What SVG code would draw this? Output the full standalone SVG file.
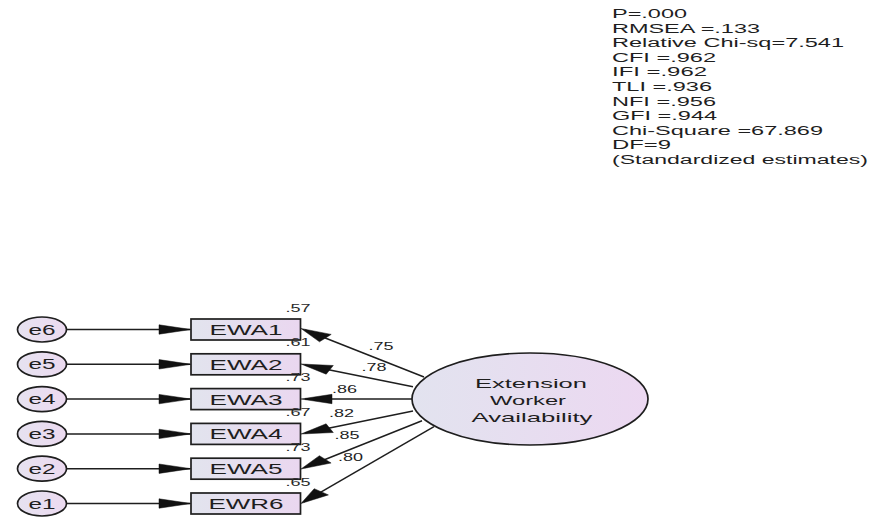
<svg xmlns="http://www.w3.org/2000/svg" width="878" height="525" viewBox="0 0 878 525">
  <defs>
    <linearGradient id="fillObs" x1="0" y1="0" x2="1" y2="0">
      <stop offset="0" stop-color="#e2e4ee"/>
      <stop offset="1" stop-color="#ead7f0"/>
    </linearGradient>
    <linearGradient id="fillLat" x1="0" y1="0" x2="1" y2="0">
      <stop offset="0" stop-color="#e2e3ef"/>
      <stop offset="1" stop-color="#ecd8f1"/>
    </linearGradient>
    <linearGradient id="fillErr" x1="0" y1="0" x2="1" y2="0">
      <stop offset="0" stop-color="#e6e2f0"/>
      <stop offset="1" stop-color="#ecdaf0"/>
    </linearGradient>
  </defs>
  <style>
    text { font-family: "Liberation Sans", Arial, sans-serif; fill: #1e1e1e; }
    .fit { font-size: 12px; }
    .lbl { font-size: 14px; text-anchor: middle; }
    .lat { font-size: 13.5px; text-anchor: middle; }
    .num { font-size: 11px; text-anchor: middle; fill: #2a2a2a; }
    .err { fill: url(#fillErr); stroke: #1e1e1e; stroke-width: 1.7; }
    .obs { fill: url(#fillObs); stroke: #1e1e1e; stroke-width: 1.7; }
    .latshape { fill: url(#fillLat); stroke: #1e1e1e; stroke-width: 1.7; }
    .conn line { stroke: #1e1e1e; stroke-width: 1.5; }
    .conn polygon { fill: #111; stroke: #111; stroke-width: 0.5; }
  </style>

  <!-- model fit summary -->
  <g id="fit-summary" class="fit">
    <text x="612" y="18.3" textLength="75" lengthAdjust="spacingAndGlyphs">P=.000</text>
    <text x="612" y="32.8" textLength="148" lengthAdjust="spacingAndGlyphs">RMSEA =.133</text>
    <text x="612" y="47.4" textLength="232" lengthAdjust="spacingAndGlyphs">Relative Chi-sq=7.541</text>
    <text x="612" y="61.9" textLength="104" lengthAdjust="spacingAndGlyphs">CFI =.962</text>
    <text x="612" y="76.4" textLength="95" lengthAdjust="spacingAndGlyphs">IFI =.962</text>
    <text x="612" y="91.0" textLength="100" lengthAdjust="spacingAndGlyphs">TLI =.936</text>
    <text x="612" y="105.5" textLength="104" lengthAdjust="spacingAndGlyphs">NFI =.956</text>
    <text x="612" y="120.0" textLength="105" lengthAdjust="spacingAndGlyphs">GFI =.944</text>
    <text x="612" y="134.5" textLength="211" lengthAdjust="spacingAndGlyphs">Chi-Square =67.869</text>
    <text x="612" y="149.1" textLength="59" lengthAdjust="spacingAndGlyphs">DF=9</text>
    <text x="612" y="163.6" textLength="256" lengthAdjust="spacingAndGlyphs">(Standardized estimates)</text>
  </g>

  <!-- connectors: error terms to indicators, factor to indicators -->
  <g id="connectors" class="conn">
    <line x1="66.5" y1="329.5" x2="190" y2="329.5"/>
    <polygon points="191,329.5 159,324.8 159,334.2"/>
    <line x1="66.5" y1="364.3" x2="190" y2="364.3"/>
    <polygon points="191,364.3 159,359.6 159,369"/>
    <line x1="66.5" y1="399.1" x2="190" y2="399.1"/>
    <polygon points="191,399.1 159,394.4 159,403.8"/>
    <line x1="66.5" y1="433.9" x2="190" y2="433.9"/>
    <polygon points="191,433.9 159,429.2 159,438.6"/>
    <line x1="66.5" y1="468.7" x2="190" y2="468.7"/>
    <polygon points="191,468.7 159,464 159,473.4"/>
    <line x1="66.5" y1="503.5" x2="190" y2="503.5"/>
    <polygon points="191,503.5 159,498.8 159,508.2"/>

    <line x1="424" y1="377" x2="305" y2="330"/>
    <polygon points="301,328.5 331.2,334.4 319.5,341.8"/>
    <line x1="413" y1="386.7" x2="305" y2="365"/>
    <polygon points="301,364 333.3,365.5 326.2,374.2"/>
    <line x1="412" y1="399" x2="305" y2="399"/>
    <polygon points="301,399 332,394.3 332,403.7"/>
    <line x1="413" y1="411" x2="305" y2="433"/>
    <polygon points="301,434 333.3,432.5 326.1,423.8"/>
    <line x1="422" y1="420.7" x2="305" y2="467.5"/>
    <polygon points="301,469 331.1,463 319.4,455.7"/>
    <line x1="434" y1="426.7" x2="304" y2="501.8"/>
    <polygon points="301,503.5 328.4,494.9 314.2,488.7"/>
  </g>

  <!-- path coefficients -->
  <g id="loadings" class="num">
    <text x="381" y="350" textLength="25" lengthAdjust="spacingAndGlyphs">.75</text>
    <text x="374" y="370.7" textLength="25" lengthAdjust="spacingAndGlyphs">.78</text>
    <text x="344.5" y="393" textLength="25" lengthAdjust="spacingAndGlyphs">.86</text>
    <text x="341.5" y="417" textLength="25" lengthAdjust="spacingAndGlyphs">.82</text>
    <text x="347" y="439" textLength="25" lengthAdjust="spacingAndGlyphs">.85</text>
    <text x="350.5" y="460.7" textLength="25" lengthAdjust="spacingAndGlyphs">.80</text>
  </g>

  <!-- error terms -->
  <g id="e6"><ellipse class="err" cx="42" cy="329.5" rx="24.5" ry="12.5"/><text class="lbl" x="42" y="334.5" textLength="27" lengthAdjust="spacingAndGlyphs">e6</text></g>
  <g id="e5"><ellipse class="err" cx="42" cy="364.3" rx="24.5" ry="12.5"/><text class="lbl" x="42" y="369.3" textLength="27" lengthAdjust="spacingAndGlyphs">e5</text></g>
  <g id="e4"><ellipse class="err" cx="42" cy="399.1" rx="24.5" ry="12.5"/><text class="lbl" x="42" y="404.1" textLength="27" lengthAdjust="spacingAndGlyphs">e4</text></g>
  <g id="e3"><ellipse class="err" cx="42" cy="433.9" rx="24.5" ry="12.5"/><text class="lbl" x="42" y="438.9" textLength="27" lengthAdjust="spacingAndGlyphs">e3</text></g>
  <g id="e2"><ellipse class="err" cx="42" cy="468.7" rx="24.5" ry="12.5"/><text class="lbl" x="42" y="473.7" textLength="27" lengthAdjust="spacingAndGlyphs">e2</text></g>
  <g id="e1"><ellipse class="err" cx="42" cy="503.5" rx="24.5" ry="12.5"/><text class="lbl" x="42" y="508.5" textLength="27" lengthAdjust="spacingAndGlyphs">e1</text></g>

  <!-- observed indicators with squared multiple correlations -->
  <g id="EWA1"><rect class="obs" x="191" y="319" width="109.5" height="21"/><text class="lbl" x="246" y="335" textLength="73" lengthAdjust="spacingAndGlyphs">EWA1</text><text class="num" x="298" y="311.5" textLength="25" lengthAdjust="spacingAndGlyphs">.57</text></g>
  <g id="EWA2"><rect class="obs" x="191" y="353.8" width="109.5" height="21"/><text class="lbl" x="246" y="369.8" textLength="73" lengthAdjust="spacingAndGlyphs">EWA2</text><text class="num" x="298" y="346" textLength="25" lengthAdjust="spacingAndGlyphs">.61</text></g>
  <g id="EWA3"><rect class="obs" x="191" y="388.6" width="109.5" height="21"/><text class="lbl" x="246" y="404.6" textLength="73" lengthAdjust="spacingAndGlyphs">EWA3</text><text class="num" x="298" y="381" textLength="25" lengthAdjust="spacingAndGlyphs">.73</text></g>
  <g id="EWA4"><rect class="obs" x="191" y="423.4" width="109.5" height="21"/><text class="lbl" x="246" y="439.4" textLength="73" lengthAdjust="spacingAndGlyphs">EWA4</text><text class="num" x="298" y="416" textLength="25" lengthAdjust="spacingAndGlyphs">.67</text></g>
  <g id="EWA5"><rect class="obs" x="191" y="458.2" width="109.5" height="21"/><text class="lbl" x="246" y="474.2" textLength="73" lengthAdjust="spacingAndGlyphs">EWA5</text><text class="num" x="298" y="451" textLength="25" lengthAdjust="spacingAndGlyphs">.73</text></g>
  <g id="EWR6"><rect class="obs" x="191" y="493" width="109.5" height="21"/><text class="lbl" x="246" y="509" textLength="75" lengthAdjust="spacingAndGlyphs">EWR6</text><text class="num" x="298" y="486" textLength="25" lengthAdjust="spacingAndGlyphs">.65</text></g>

  <!-- latent factor -->
  <g id="ExtensionWorkerAvailability">
    <ellipse class="latshape" cx="530" cy="399" rx="118" ry="46"/>
    <text class="lat" x="531" y="387.5" textLength="112" lengthAdjust="spacingAndGlyphs">Extension</text>
    <text class="lat" x="528" y="404.5" textLength="76" lengthAdjust="spacingAndGlyphs">Worker</text>
    <text class="lat" x="532" y="421.5" textLength="121" lengthAdjust="spacingAndGlyphs">Availability</text>
  </g>
</svg>
